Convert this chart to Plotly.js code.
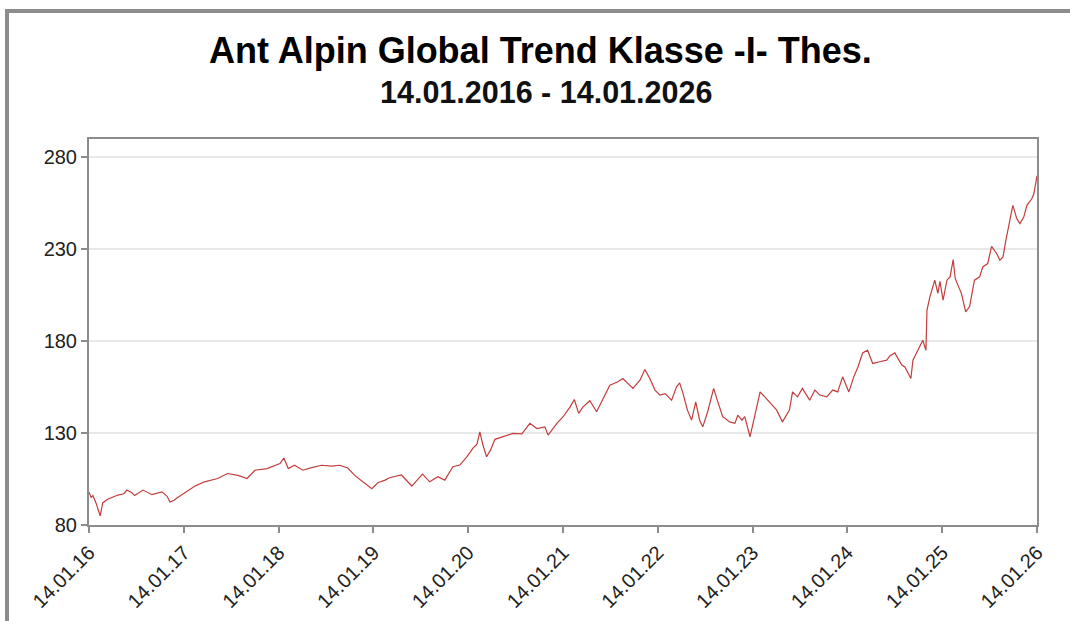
<!DOCTYPE html>
<html>
<head>
<meta charset="utf-8">
<script src="https://cdn.plot.ly/plotly-3.0.1.min.js"></script>
<style>
  html, body { margin: 0; padding: 0; background: #ffffff; overflow: hidden; }
  #frame { position: absolute; left: 5px; top: 9px; border-left: 4px solid #8c8c8c; border-top: 4px solid #8c8c8c; }
  #chart { width: 1061px; height: 608px; }
</style>
</head>
<body>
<div id="frame"><div id="chart"></div></div>
<script>
const titleText = "Ant Alpin Global Trend Klasse -I- Thes.";
const subtitleText = "14.01.2016 - 14.01.2026";

const tickDates = ["2016-01-14","2017-01-14","2018-01-14","2019-01-14","2020-01-14","2021-01-14","2022-01-14","2023-01-14","2024-01-14","2025-01-14","2026-01-14"];
const tickLabels = ["14.01.16","14.01.17","14.01.18","14.01.19","14.01.20","14.01.21","14.01.22","14.01.23","14.01.24","14.01.25","14.01.26"];
const yTicks = [80, 130, 180, 230, 280];

const dates = [
"2016-01-14","2016-01-22","2016-01-29","2016-02-10","2016-02-26","2016-03-07","2016-03-26","2016-05-04","2016-05-27","2016-06-08",
"2016-06-27","2016-07-08","2016-08-09","2016-09-13","2016-10-21","2016-11-10","2016-11-21","2016-12-07","2016-12-18",
"2017-01-18","2017-02-27","2017-04-03","2017-05-24","2017-07-01","2017-08-10","2017-09-14","2017-10-14","2017-11-30","2017-12-19",
"2018-01-19","2018-02-03","2018-02-20","2018-03-16","2018-04-17","2018-05-21","2018-06-28","2018-08-06","2018-09-06","2018-10-07",
"2018-11-03","2018-12-04","2019-01-08",
"2019-01-31","2019-02-28","2019-03-17","2019-05-02","2019-06-11","2019-07-22","2019-08-19","2019-09-19","2019-10-16","2019-11-16","2019-12-13",
"2020-01-09","2020-02-01","2020-02-17","2020-02-28","2020-03-11","2020-03-25","2020-04-10","2020-04-26","2020-05-26","2020-07-04",
"2020-08-08","2020-09-08","2020-10-05","2020-11-05","2020-11-17","2020-12-21",
"2021-01-14","2021-02-10","2021-02-26","2021-03-15","2021-03-30","2021-04-27","2021-05-23","2021-06-16","2021-07-13","2021-08-13",
"2021-09-01","2021-10-10","2021-11-06","2021-11-25","2021-12-14","2022-01-03",
"2022-01-22","2022-02-11","2022-03-08","2022-03-27","2022-04-08","2022-04-20","2022-05-08","2022-05-24","2022-06-09","2022-06-24",
"2022-07-06","2022-07-25","2022-08-17","2022-09-02","2022-09-21","2022-10-18","2022-11-07","2022-11-18","2022-12-04","2022-12-15","2023-01-04",
"2023-01-23","2023-02-12","2023-03-02","2023-03-20","2023-04-17","2023-05-09","2023-06-05","2023-06-17","2023-07-06","2023-07-25",
"2023-08-22","2023-09-11","2023-09-30","2023-10-27","2023-11-19","2023-12-08","2023-12-27",
"2024-01-20","2024-02-08","2024-02-24","2024-03-13","2024-04-01","2024-04-21","2024-05-18","2024-06-14","2024-06-26","2024-07-15",
"2024-08-11","2024-08-23","2024-09-15","2024-09-23","2024-10-12","2024-10-31","2024-11-12","2024-11-16","2024-11-27","2024-12-16",
"2024-12-28","2025-01-05",
"2025-01-17","2025-02-01","2025-02-13","2025-02-25","2025-03-05","2025-03-18","2025-03-29","2025-04-14","2025-04-29","2025-05-18",
"2025-06-07","2025-06-19","2025-07-08","2025-07-23","2025-08-12","2025-08-24","2025-09-05","2025-09-16","2025-09-24","2025-10-09",
"2025-10-13","2025-10-28","2025-11-09","2025-11-24","2025-12-06","2025-12-25","2026-01-02","2026-01-14"
];

const values = [
98,95,96,92,85,92,94,96.3,97,99,
97.5,96,99,96.5,98,95.6,92.5,93.5,94.7,
97.7,101.3,103.5,105.3,108,107,105.3,109.8,110.7,111.6,
113.4,116.4,110.7,112.5,109.8,111.2,112.5,112,112.5,111,
107,103.5,99.8,
103,104.4,105.7,107.2,101.2,107.7,103.5,106.3,104.4,111.7,112.6,
117.1,121.7,124,130.7,123.5,117.1,121,126.6,128,129.8,
129.6,135.3,132.5,133.4,128.9,135.3,
138.9,144.3,148.3,140.7,144,147.6,141.6,148.8,156,157.9,
159.7,154.3,158.8,164.6,159.7,153.4,
150.7,151.5,147.9,155.2,157.3,152,142.5,137.1,147,137,
133.4,141.6,154.3,147,138.9,136.1,135.3,139.8,137,139,128,
139.8,152.4,149.7,147,142.5,136.1,142.5,152.4,149.7,154.3,
147.9,153.4,150.7,149.7,153.4,152.4,160.6,
152.4,160.6,166,173.6,175.1,167.9,168.8,169.7,172,173.6,
167,166,159.7,169.7,175.1,180.5,175.1,196.8,204,213.2,
206,212.5,
202.3,213.2,215,224.4,214,209.5,205.9,195.9,198.7,213.2,
215,220.4,222.2,231.6,227.6,224,225.8,234.9,241.2,251.2,
253.9,246.7,244,247.5,253.9,257.5,260.3,270
];

const axisColor = "#8c8c8c";
const textColor = "#222222";

const trace = {
  type: "scatter",
  mode: "lines",
  x: dates,
  y: values,
  line: { color: "#c43c3c", width: 1.2 },
  hoverinfo: "x+y"
};

const layout = {
  width: 1061,
  height: 608,
  margin: { l: 80, r: 33, t: 126, b: 96 },
  paper_bgcolor: "#ffffff",
  plot_bgcolor: "#ffffff",
  showlegend: false,
  font: { family: "Liberation Sans, Arial, sans-serif", color: textColor },
  xaxis: {
    type: "date",
    range: ["2016-01-14", "2026-01-14"],
    tickmode: "array",
    tickvals: tickDates,
    ticktext: tickLabels,
    tickangle: -45,
    tickfont: { size: 20, color: textColor },
    ticks: "outside",
    ticklen: 6,
    tickwidth: 2,
    tickcolor: axisColor,
    showline: true,
    linecolor: axisColor,
    linewidth: 2,
    mirror: true,
    showgrid: false,
    zeroline: false
  },
  yaxis: {
    range: [80, 290],
    tickmode: "array",
    tickvals: yTicks,
    ticktext: yTicks.map(String),
    tickfont: { size: 20, color: textColor },
    ticks: "outside",
    ticklen: 6,
    tickwidth: 2,
    tickcolor: axisColor,
    showline: true,
    linecolor: axisColor,
    linewidth: 2,
    mirror: true,
    showgrid: true,
    gridcolor: "#e8e8e8",
    gridwidth: 2,
    zeroline: false
  },
  annotations: [
    {
      text: "<b>" + titleText + "</b>",
      xref: "paper", yref: "paper",
      x: 0.476, y: 1.228,
      xanchor: "center", yanchor: "middle",
      showarrow: false,
      font: { size: 36, color: "#000000", family: "Liberation Sans, Arial, sans-serif" }
    },
    {
      text: "<b>" + subtitleText + "</b>",
      xref: "paper", yref: "paper",
      x: 0.482, y: 1.1225,
      xanchor: "center", yanchor: "middle",
      showarrow: false,
      font: { size: 30.5, color: "#111111", family: "Liberation Sans, Arial, sans-serif" }
    }
  ]
};

Plotly.newPlot("chart", [trace], layout, { displayModeBar: false, staticPlot: false });
</script>
</body>
</html>
